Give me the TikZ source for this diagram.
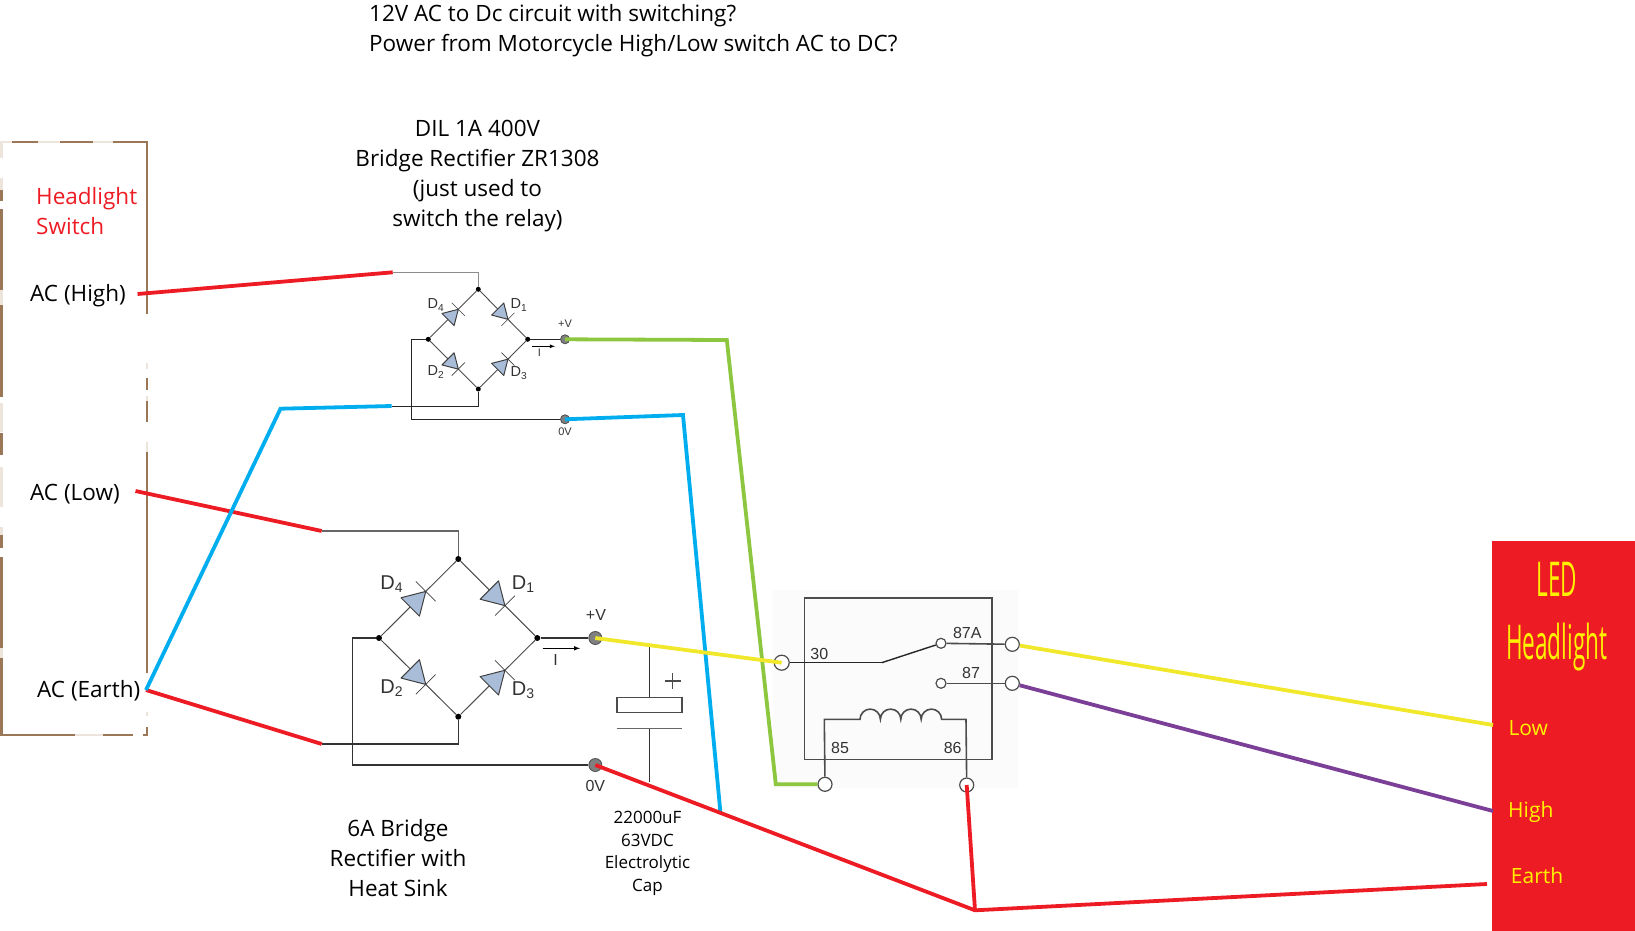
\documentclass[tikz,border=0pt]{standalone}
\usepackage{fontspec}
\setmainfont{Open Sans}
\newfontfamily\labelfont{Liberation Sans}
\usetikzlibrary{calc}
\definecolor{wirered}{HTML}{ED1C24}
\definecolor{wireblue}{HTML}{00AEEF}
\definecolor{wiregreen}{HTML}{8DC63F}
\definecolor{wireyellow}{HTML}{F2E82B}
\definecolor{wirepurple}{HTML}{7B3F98}
\definecolor{framebrown}{HTML}{9A7757}
\definecolor{framelight}{HTML}{EDE4DC}
\definecolor{headyellow}{HTML}{FFF200}
\definecolor{diodeblue}{HTML}{A9BCD8}
\tikzset{
    wire/.style={line width=3.8pt, line join=miter},
    lead/.style={line width=1.3pt, draw=black!80},
    thinlead/.style={line width=1pt, draw=black!85},
    rel/.style={line width=1.6pt, draw=black!70},
    dot/.style={circle, fill=black, inner sep=0pt, minimum size=#1},
    outgray/.style={circle, draw=black!70, fill=black!50, line width=.8pt, inner sep=0pt, minimum size=#1},
    relterm/.style={circle, draw=black!70, fill=white, line width=1.2pt, inner sep=0pt, minimum size=#1},
    txt/.style={font=\fontsize{22.5}{30}\selectfont, align=center, inner sep=0pt},
    ledtxt/.style={font=\fontsize{21}{29}\selectfont, text=headyellow, anchor=west, inner sep=0pt},
    headtxt/.style={font=\fontsize{48}{50}\selectfont, text=headyellow, xscale=.47, transform shape, inner sep=0pt},
    caplabel/.style={font=\fontsize{17}{22.6}\selectfont, align=center, inner sep=0pt},
    schem/.style={font=\labelfont\fontsize{#1}{#1}\selectfont, text=black!80, inner sep=0pt},
    diode/.pic={
        \draw[fill=diodeblue, draw=black!75, line width=1pt, line join=round] (0,0) -- (-22,-13) -- (-22,13) -- cycle;
        \draw[black!75, line width=.7pt] (0,-14) -- (0,14);
    }
}
\begin{document}
\begin{tikzpicture}[x=1pt, y=-1pt]
    \useasboundingbox (0,0) rectangle (1635,931);

    % Headlight switch box
    \foreach \xa/\ya/\xb/\yb in {1.5/142/1.5/158, 1.5/178/1.5/190, 1.5/290/1.5/305, 1.5/403/1.5/432, 1.5/467/1.5/507, 1.5/527/1.5/535, 1.5/648/1.5/658,
        147/363/147/369, 147/396/147/401, 147/442/147/452, 147/712/147/716,
        0/142/12/142, 38/142/60/142, 93/142/113/142, 75/735/103/735}
        \draw[framelight, line width=2.4pt] (\xa,\ya) -- (\xb,\yb);
    \foreach \xa/\ya/\xb/\yb in {1.5/190/1.5/201, 1.5/209/1.5/290, 1.5/305/1.5/397, 1.5/433/1.5/455, 1.5/535/1.5/548, 1.5/557/1.5/648, 1.5/658/1.5/736,
        147/142/147/314, 147/378/147/390, 147/401/147/422, 147/452/147/673, 147/727/147/736,
        12/142/38/142, 60/142/93/142, 113/142/148/142, 0/735/75/735, 103/735/133/735, 143/735/148/735}
        \draw[framebrown, line width=2.4pt] (\xa,\ya) -- (\xb,\yb);
    \node[txt, text=wirered, anchor=west] (swtitle) at (36,198.5) {Headlight};
    \node[txt, text=wirered, anchor=west] (swtitleb) at (36,226) {Switch};
    \node[txt, anchor=west] (achigh) at (30,296) {AC (High)};
    \node[txt, anchor=west] (aclow) at (30,494) {AC (Low)};
    \node[txt, anchor=west] (acearth) at (37,691) {AC (Earth)};
    \coordinate (swhigh) at (137.6,294);
    \coordinate (swlow) at (135.5,491);
    \coordinate (swearth) at (146,690);

    % Top texts
    \node[txt, anchor=west] (qa) at (369,15.5) {12V AC to Dc circuit with switching?};
    \node[txt, anchor=west] (qb) at (369,46) {Power from Motorcycle High/Low switch AC to DC?};
    \node[txt] (dil) at (477.5,176) {DIL 1A 400V\\Bridge Rectifier ZR1308\\(just used to\\switch the relay)};
    \node[txt] (bigtxt) at (398,858.5) {6A Bridge\\Rectifier with\\Heat Sink};
    \node[caplabel] (captxt) at (647.5,853.5) {22000uF\\63VDC\\Electrolytic\\Cap};

    % Small bridge
    \node[dot=5pt] (st) at (478.3,289.3) {};
    \node[dot=5pt] (sr) at (527.7,339.3) {};
    \node[dot=5pt] (sl) at (428.3,339.3) {};
    \node[dot=5pt] (sb) at (478.3,389) {};
    \node[outgray=9pt] (spos) at (565,339.3) {};
    \node[outgray=9pt] (sneg) at (565,419.3) {};
    \coordinate (sinh) at (392.7,272.3);
    \coordinate (sinl) at (391.7,406);
    \coordinate (sback) at (411.7,339.3);
    \coordinate (sbackb) at (411.7,419.3);
    \draw[black!45, line width=1pt] (sinh) -| (st);
    \draw[thinlead] (sinl) -| (sb);
    \draw[thinlead] (sl) -- (sback) -- (sbackb) -- (sneg);
    \draw[thinlead] (sr) -- (spos);
    \foreach \a/\b/\ang in {sl/st/45, st/sr/-45, sl/sb/-45, sb/sr/45} {
        \draw[black!70, line width=.9pt] (\a) -- (\b);
        \pic[rotate=\ang, scale=.66] at ($(\a)!.6!(\b)$) {diode};
    }
    \node[schem=14.5] (sd4) at (436,305) {D\textsubscript{4}};
    \node[schem=14.5] (sd1) at (519,305) {D\textsubscript{1}};
    \node[schem=14.5] (sd2) at (436,372) {D\textsubscript{2}};
    \node[schem=14.5] (sd3) at (519,373) {D\textsubscript{3}};
    \node[schem=11] (sposl) at (565,324) {+V};
    \node[schem=11] (snegl) at (565,432) {0V};
    \node[schem=11] (scur) at (539.3,353) {I};
    \coordinate (sia) at (531.7,346.3);
    \coordinate (sib) at (555,346.3);
    \draw[-latex, black, line width=.8pt] (sia) -- (sib);

    % Large bridge
    \node[dot=6pt] (bt) at (458.3,559) {};
    \node[dot=6pt] (br) at (537.3,638) {};
    \node[dot=6pt] (bl) at (379,638) {};
    \node[dot=6pt] (bb) at (458.3,716.7) {};
    \node[outgray=13pt] (bpos) at (595.3,638) {};
    \node[outgray=13pt] (bneg) at (595.3,765) {};
    \coordinate (binh) at (321.7,531);
    \coordinate (binl) at (321.7,744);
    \coordinate (bback) at (352.3,638);
    \coordinate (bbackb) at (352.3,765);
    \draw[lead, black!60] (binh) -| (bt);
    \draw[lead] (binl) -| (bb);
    \draw[lead] (bl) -- (bback) -- (bbackb) -- (bneg);
    \draw[lead] (br) -- (bpos);
    \foreach \a/\b/\ang in {bl/bt/45, bt/br/-45, bl/bb/-45, bb/br/45} {
        \draw[black!70, line width=1pt] (\a) -- (\b);
        \pic[rotate=\ang] at ($(\a)!.59!(\b)$) {diode};
    }
    \node[schem=20] (bd4) at (391.7,584) {D\textsubscript{4}};
    \node[schem=20] (bd1) at (523.3,584) {D\textsubscript{1}};
    \node[schem=20] (bd2) at (391.7,688) {D\textsubscript{2}};
    \node[schem=20] (bd3) at (523.3,690) {D\textsubscript{3}};
    \node[schem=16] (bposl) at (596,615) {+V};
    \node[schem=16] (bnegl) at (595.3,786) {0V};
    \node[schem=16] (bcur) at (555.7,660) {I};
    \coordinate (bia) at (542.7,648.3);
    \coordinate (bib) at (580,648.3);
    \draw[-latex, black, line width=1pt] (bia) -- (bib);

    % Capacitor
    \node[draw=black!70, line width=1.5pt, fill=white, inner sep=0pt, minimum width=65pt, minimum height=15.4pt] (capbox) at (649.3,705) {};
    \coordinate (captop) at (649.3,645);
    \coordinate (capbot) at (649.3,781.7);
    \coordinate (capplate) at (649.3,728.3);
    \coordinate (capl) at (616.7,728.3);
    \coordinate (capr) at (681.7,728.3);
    \draw[lead] (captop) -- (capbox);
    \draw[lead] (capplate) -- (capbot);
    \draw[black!60, line width=1.1pt] (capl) -- (capr);
    \draw[black!70, line width=1.2pt] (664.7,681) -- (680.7,681) (672.7,673) -- (672.7,689);

    % Relay
    \fill[black!1.5] (773,590) rectangle (1018,788);
    \draw[rel] (804.3,597.7) rectangle (991.7,759.3);
    \node[relterm=15pt] (t30) at (781.7,662.7) {};
    \node[relterm=14pt] (t87a) at (1012.3,644.3) {};
    \node[relterm=14pt] (t87) at (1012.3,683.3) {};
    \node[relterm=14pt] (t85) at (825,784.3) {};
    \node[relterm=14pt] (t86) at (966.7,785) {};
    \node[relterm=10pt] (c87a) at (941,643.3) {};
    \node[relterm=10pt] (c87) at (941,683.3) {};
    \coordinate (pivot) at (881.7,662.7);
    \coordinate (coiltl) at (824.3,719.3);
    \coordinate (coiltr) at (966,719.3);
    \coordinate (coila) at (860,719.3);
    \draw[black!85, line width=1pt] (t30) -- (pivot);
    \draw[black!85, line width=1.4pt] (pivot) -- (c87a);
    \draw[rel] (c87a) -- (t87a);
    \draw[rel] (c87) -- (t87);
    \draw[rel] (t85) -- (coiltl) -- (coila)
        arc[start angle=180, end angle=360, radius=10.2]
        arc[start angle=180, end angle=360, radius=10.2]
        arc[start angle=180, end angle=360, radius=10.2]
        arc[start angle=180, end angle=360, radius=10.2]
        -- (coiltr) -- (t86);
    \node[schem=16] (l30) at (819.3,654) {30};
    \node[schem=16] (l87a) at (967.3,632.7) {87A};
    \node[schem=16] (l87) at (971,672.7) {87};
    \node[schem=16] (l85) at (840,748.3) {85};
    \node[schem=16] (l86) at (952.7,748.3) {86};

    % LED headlight
    \fill[wirered] (1491.7,541) rectangle (1635,931);
    \node[headtxt] (ledt) at (1556.7,579) {LED};
    \node[headtxt] (ledh) at (1556.7,647) {Headlight};
    \node[ledtxt] (llow) at (1508.3,728) {Low};
    \node[ledtxt] (lhigh) at (1508,812) {High};
    \node[ledtxt] (learth) at (1510.7,876) {Earth};
    \coordinate (inlow) at (1493,725);
    \coordinate (inhigh) at (1493,811);
    \coordinate (inearth) at (1487,884);

    % Coloured wires
    \coordinate (blufold) at (280.5,408.7);
    \coordinate (blutop) at (683,415);
    \coordinate (blubot) at (720.5,813.3);
    \coordinate (grnfold) at (726.8,340);
    \coordinate (grnbot) at (775.8,784.3);
    \coordinate (redfold) at (975,910.3);
    \draw[wire, wirered] (swhigh) -- (sinh);
    \draw[wire, wirered] (swlow) -- (binh);
    \draw[wire, wirered] (swearth) -- (binl);
    \draw[wire, wireblue] (swearth) -- (blufold) -- (sinl);
    \draw[wire, wireblue] (sneg.center) -- (blutop) -- (blubot);
    \draw[wire, wiregreen] (spos.center) -- (grnfold) -- (grnbot) -- (t85);
    \draw[wire, wireyellow] (bpos.center) -- (t30.center);
    \draw[wire, wireyellow] (t87a) -- (inlow);
    \draw[wire, wirepurple] (t87) -- (inhigh);
    \draw[wire, wirered] (bneg.center) -- (redfold) -- (inearth);
    \draw[wire, wirered] (t86.center) -- (redfold);
\end{tikzpicture}
\end{document}
